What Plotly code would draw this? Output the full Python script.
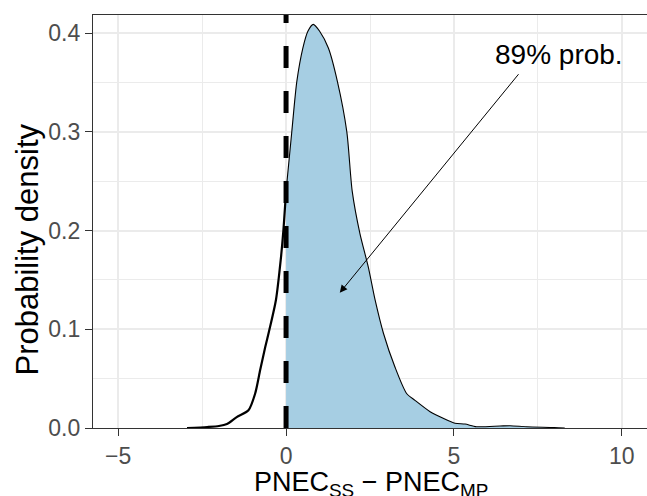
import plotly.graph_objects as go

# Density of PNEC_SS - PNEC_MP
left_x = [-2.95, -2.35, -2.0, -1.76, -1.47, -1.12, -0.92, -0.77, -0.62, -0.50, -0.30, -0.16, -0.08, 0.0]
left_y = [0.0, 0.001, 0.002, 0.004, 0.011, 0.018, 0.035, 0.059, 0.082, 0.099, 0.13, 0.17, 0.20, 0.24]

right_x = [0.0, 0.17, 0.32, 0.50, 0.65, 0.81, 1.0, 1.26, 1.53, 1.81, 1.97, 2.20, 2.45, 2.65, 2.90,
           3.24, 3.59, 3.84, 4.29, 4.68, 5.03, 5.33, 5.67, 6.37, 6.67, 7.16, 7.99, 8.3]
right_y = [0.24, 0.300, 0.351, 0.385, 0.402, 0.409, 0.402, 0.385, 0.351, 0.300, 0.24, 0.197, 0.163,
           0.130, 0.096, 0.062, 0.035, 0.028, 0.0165, 0.0098, 0.0048, 0.004, 0.0013, 0.002, 0.0023,
           0.0013, 0.0005, 0.0]

threshold = 0.0
prob_label = "89% prob."
label_pos = (8.12, 0.378)
arrow_tail = (6.96, 0.360)
arrow_head = (1.60, 0.137)

x_title = "PNEC<sub>SS</sub> − PNEC<sub>MP</sub>"
y_title = "Probability density"

x_range = [-5.75, 10.75]
y_range = [0.0, 0.4185]
x_ticks = [-5, 0, 5, 10]
y_ticks = [0.0, 0.1, 0.2, 0.3, 0.4]

FONT = "Liberation Sans, Arial, sans-serif"
FILL = "#A6CEE3"

fig = go.Figure()
fig.add_trace(go.Scatter(x=right_x, y=right_y, mode="lines", fill="tozeroy",
                         fillcolor=FILL, line=dict(color="black", width=1.1, shape="spline", smoothing=0.7),
                         hoverinfo="skip", showlegend=False))
fig.add_trace(go.Scatter(x=left_x, y=left_y, mode="lines",
                         line=dict(color="black", width=2.2, shape="spline", smoothing=0.7),
                         hoverinfo="skip", showlegend=False))
fig.add_trace(go.Scatter(x=[threshold, threshold], y=[y_range[0], y_range[1]], mode="lines",
                         line=dict(color="black", width=5, dash="22px,23px"),
                         hoverinfo="skip", showlegend=False, cliponaxis=False))

fig.add_annotation(x=label_pos[0], y=label_pos[1], text=prob_label, showarrow=False,
                   font=dict(family=FONT, size=28, color="black"), xanchor="center", yanchor="middle")
fig.add_annotation(x=arrow_head[0], y=arrow_head[1], ax=arrow_tail[0], ay=arrow_tail[1],
                   axref="x", ayref="y", xref="x", yref="y", text="", showarrow=True,
                   arrowhead=2, arrowsize=1.5, arrowwidth=1, arrowcolor="black")

# axis titles placed as annotations for exact positioning
fig.add_annotation(xref="paper", yref="paper", x=0.5, y=0, xshift=1, yshift=-37,
                   text=x_title, showarrow=False, xanchor="center", yanchor="top",
                   font=dict(family=FONT, size=27, color="black"))
fig.add_annotation(xref="paper", yref="paper", x=0, y=0.5, xshift=-66, yshift=-28,
                   text=y_title, showarrow=False, textangle=-90, xanchor="center", yanchor="middle",
                   font=dict(family=FONT, size=31, color="black"))

fig.update_layout(
    width=647, height=496,
    margin=dict(l=93, r=0, t=15, b=68),
    paper_bgcolor="white", plot_bgcolor="white",
    font=dict(family=FONT),
    xaxis=dict(range=x_range, tickvals=x_ticks, showgrid=True, gridcolor="#EBEBEB", gridwidth=2,
               minor=dict(showgrid=True, dtick=2.5, tick0=-2.5, gridcolor="#EBEBEB", gridwidth=1),
               zeroline=False, showline=True, linecolor="#333333", linewidth=1.2, mirror=True,
               ticks="outside", ticklen=7, tickcolor="#333333", tickwidth=1.2, automargin=False,
               tickfont=dict(family=FONT, size=23, color="#4D4D4D")),
    yaxis=dict(range=y_range, tickvals=y_ticks, tickformat=".1f", showgrid=True, gridcolor="#EBEBEB",
               gridwidth=2, automargin=False,
               minor=dict(showgrid=True, dtick=0.05, tick0=0.05, gridcolor="#EBEBEB", gridwidth=1),
               zeroline=False, showline=True, linecolor="#333333", linewidth=1.2,
               ticks="outside", ticklen=7, tickcolor="#333333", tickwidth=1.2,
               tickfont=dict(family=FONT, size=23, color="#4D4D4D")),
)

fig.write_html("out.html", config={"displayModeBar": False},
               post_script="document.body.style.margin='0';document.body.style.overflow='hidden';")
